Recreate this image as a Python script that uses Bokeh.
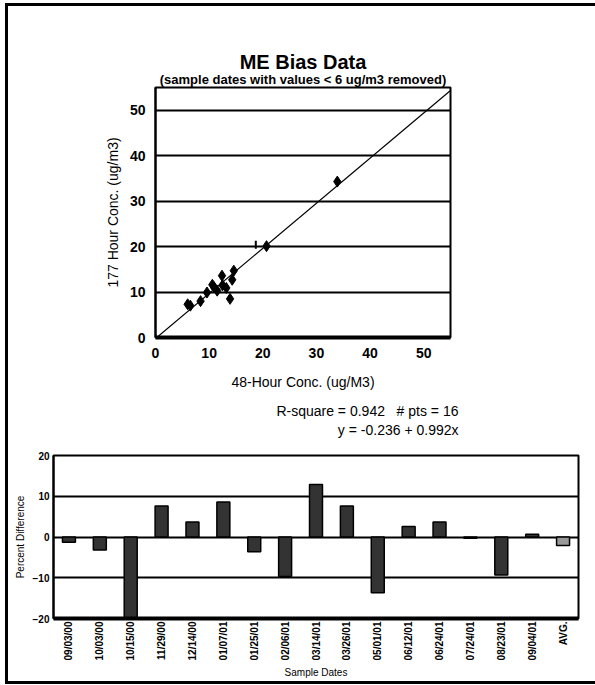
from math import pi
from bokeh.plotting import figure
from bokeh.layouts import column, row
from bokeh.models import Title, Range1d, FactorRange, ColumnDataSource, FixedTicker
from bokeh.embed import file_html
from bokeh.resources import INLINE

FONT = "Liberation Sans"
NB = "\u00a0"

# ---- scatter data (48-hour vs 177-hour concentrations) ----
conc_48h = [33.9, 20.7, 14.6, 14.3, 12.4, 13.2, 13.9, 10.9, 11.5, 10.6, 9.6, 8.4, 6.5, 6.0, 12.5]
conc_177h = [34.3, 20.1, 14.7, 12.7, 13.6, 10.9, 8.5, 11.1, 10.3, 11.6, 9.9, 8.0, 7.0, 7.3, 11.5]
tick_pt_48h = [18.7]
tick_pt_177h = [20.4]
fit_intercept = -0.236
fit_slope = 0.992
r_square = 0.942
n_pts = 16
axis_ticks = [0, 10, 20, 30, 40, 50]

# ---- bar data (percent difference per sample date) ----
sample_dates = ["09/03/00", "10/03/00", "10/15/00", "11/29/00", "12/14/00", "01/07/01",
                "01/25/01", "02/06/01", "03/14/01", "03/26/01", "05/01/01", "06/12/01",
                "06/24/01", "07/24/01", "08/23/01", "09/04/01", "AVG."]
pct_diff = [-1.3, -3.2, -20.0, 7.6, 3.7, 8.6, -3.6, -9.7, 12.9, 7.6, -13.7, 2.6,
            3.7, -0.3, -9.3, 0.7, -2.1]
pct_ticks = [-20, -10, 0, 10, 20]

W = 600

# ================= top: scatter =================
p1 = figure(width=W, height=437, x_range=Range1d(0, 55), y_range=Range1d(0, 55),
            output_backend="svg", toolbar_location=None, title=None,
            min_border_left=147, min_border_right=W - 442, min_border_top=81,
            min_border_bottom=106)
p1.background_fill_color = "white"
p1.border_fill_color = "white"
p1.outline_line_color = "black"
p1.outline_line_width = 2
p1.xgrid.visible = False
p1.ygrid.ticker = FixedTicker(ticks=axis_ticks)
p1.ygrid.grid_line_color = "black"
p1.ygrid.grid_line_width = 2
for ax in (p1.xaxis[0], p1.yaxis[0]):
    ax.ticker = FixedTicker(ticks=axis_ticks)
    ax.major_tick_out = 0
    ax.major_tick_in = 0
    ax.minor_tick_out = 0
    ax.minor_tick_in = 0
    ax.axis_line_color = "black"
    ax.major_label_text_font = FONT
    ax.major_label_text_font_style = "bold"
    ax.major_label_text_font_size = "14px"
    ax.major_label_text_color = "black"
    ax.axis_label_text_font = FONT
    ax.axis_label_text_font_style = "normal"
    ax.axis_label_text_font_size = "14px"
    ax.axis_label_text_color = "black"
p1.xaxis.axis_line_width = 4
p1.yaxis.axis_line_width = 2
p1.xaxis.axis_label = "48-Hour Conc. (ug/M3)"
p1.yaxis.axis_label = "177 Hour Conc. (ug/m3)"
p1.xaxis.major_label_standoff = 10
p1.yaxis.major_label_standoff = 10
p1.xaxis.axis_label_standoff = 13
p1.yaxis.axis_label_standoff = 6

fit_x = [p1.x_range.start, p1.x_range.end]
fit_y = [fit_intercept + fit_slope * v for v in fit_x]
p1.line(fit_x, fit_y, line_color="black", line_width=1.2)
p1.scatter(conc_48h, conc_177h, marker="diamond", size=11, fill_color="black", line_color="black")
p1.scatter(tick_pt_48h, tick_pt_177h, marker="dash", angle=pi / 2, size=8, line_color="black", line_width=2)

p1.add_layout(Title(text="(sample dates with values < 6 ug/m3 removed)", align="center",
                    text_font=FONT, text_font_size="13px", text_font_style="bold",
                    text_color="black", standoff=1), "above")
p1.add_layout(Title(text="ME Bias Data", align="center", text_font=FONT,
                    text_font_size="20px", text_font_style="bold", text_color="black",
                    standoff=-6), "above")
p1.add_layout(Title(text=f"R-square = {r_square}{NB*3}# pts = {n_pts}", align="right", offset=-8,
                    text_font=FONT, text_font_size="14px", text_font_style="normal",
                    text_color="black", standoff=16), "below")
p1.add_layout(Title(text=f"y = {fit_intercept} + {fit_slope}x", align="right", offset=-8,
                    text_font=FONT, text_font_size="14px", text_font_style="normal",
                    text_color="black", standoff=-13), "below")

# ================= bottom: bars =================
bar_colors = ["#333333"] * (len(sample_dates) - 1) + ["#999999"]
src = ColumnDataSource(dict(date=sample_dates, pct=pct_diff, color=bar_colors))
p2 = figure(width=W, height=238, x_range=FactorRange(*sample_dates), y_range=Range1d(-20, 20),
            output_backend="svg", toolbar_location=None, title=None,
            min_border_left=45, min_border_right=W - 570, min_border_top=12, min_border_bottom=61)
p2.background_fill_color = "white"
p2.border_fill_color = "white"
p2.outline_line_color = "black"
p2.outline_line_width = 2
p2.xgrid.visible = False
p2.ygrid.ticker = FixedTicker(ticks=pct_ticks)
p2.ygrid.grid_line_color = "black"
p2.ygrid.grid_line_width = 2
p2.yaxis.ticker = FixedTicker(ticks=pct_ticks)
for ax in (p2.xaxis[0], p2.yaxis[0]):
    ax.major_tick_out = 0
    ax.major_tick_in = 0
    ax.minor_tick_out = 0
    ax.minor_tick_in = 0
    ax.axis_line_color = "black"
    ax.major_label_text_font = FONT
    ax.major_label_text_font_style = "bold"
    ax.major_label_text_font_size = "10px"
    ax.major_label_text_color = "black"
    ax.axis_label_text_font = FONT
    ax.axis_label_text_font_style = "normal"
    ax.axis_label_text_font_size = "10px"
    ax.axis_label_text_color = "black"
p2.xaxis.axis_line_width = 4
p2.yaxis.axis_line_width = 2
p2.xaxis.major_label_orientation = pi / 2
p2.xaxis.axis_label = "Sample Dates"
p2.yaxis.axis_label = "Percent Difference"
p2.xaxis.major_label_standoff = 3
p2.yaxis.major_label_standoff = 4
p2.xaxis.axis_label_standoff = 4
p2.yaxis.axis_label_standoff = 4

p2.vbar(x="date", top="pct", bottom=0, width=0.42, fill_color="color", line_color="black",
        line_width=1.5, source=src)

layout = column(p1, row(p2), spacing=0,
                styles={"border-top": "3px solid black", "border-left": "3px solid black",
                        "border-bottom": "3px solid black",
                        "margin-left": "5px", "margin-top": "3px"})

open("out.html", "w").write(file_html(layout, INLINE))
